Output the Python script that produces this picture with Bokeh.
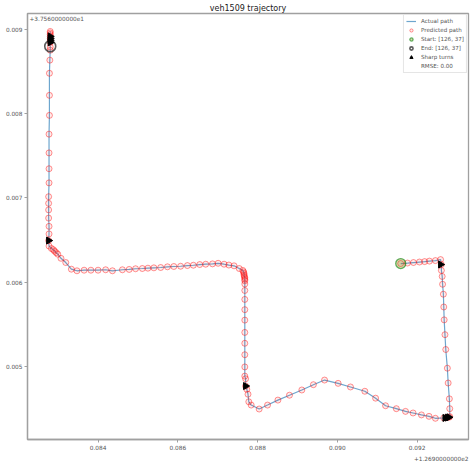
import numpy as np
from bokeh.plotting import figure
from bokeh.models import (Range1d, FixedTicker, PrintfTickFormatter, Legend,
                          LegendItem, Label, Title)
from bokeh.embed import file_html
from bokeh.resources import INLINE

# ---- data (offsets: lon +126.9, lat +37.56) ----
path_lon = [
    0.09159, 0.09176, 0.09191, 0.09206, 0.09219, 0.09231, 0.09246, 0.09259,
    0.09261, 0.09261, 0.09263, 0.09264, 0.09266, 0.09267, 0.09268, 0.09270,
    0.09272, 0.09276, 0.09278, 0.09281, 0.09282, 0.09282,
    0.09280, 0.09274, 0.09267, 0.09246, 0.09230, 0.09211, 0.09190, 0.09171,
    0.09148, 0.09121, 0.09096, 0.09069, 0.09033, 0.09002, 0.08968, 0.08940,
    0.08911, 0.08880, 0.08851, 0.08825, 0.08804, 0.08784, 0.08778, 0.08776,
    0.08773, 0.08770, 0.08770,
    0.08768, 0.08768, 0.08768, 0.08768, 0.08768, 0.08768, 0.08768, 0.08768,
    0.08768, 0.08768,
    0.08768, 0.08768, 0.08768, 0.08767, 0.08766, 0.08766, 0.08765, 0.08763,
    0.08754, 0.08741, 0.08728, 0.08716, 0.08701, 0.08687, 0.08670, 0.08655,
    0.08639, 0.08624, 0.08607, 0.08590, 0.08574, 0.08557, 0.08540, 0.08525,
    0.08511, 0.08494, 0.08478, 0.08461, 0.08436, 0.08419, 0.08400, 0.08382,
    0.08365, 0.08347, 0.08333, 0.08319, 0.08307, 0.08299, 0.08295, 0.08291,
    0.08288, 0.08283, 0.08277,
    0.08276, 0.08277, 0.08277, 0.08276, 0.08276, 0.08276, 0.08276, 0.08277,
    0.08277, 0.08277, 0.08277, 0.08278, 0.08278, 0.08278, 0.08279, 0.08280,
    0.08280, 0.08280, 0.08280, 0.08280, 0.08280, 0.08280, 0.08280, 0.08280,
]
path_lat = [
    0.006220, 0.006226, 0.006232, 0.006238, 0.006243, 0.006249, 0.006255, 0.006267,
    0.006208, 0.006138, 0.006067, 0.005974, 0.005856, 0.005704, 0.005551, 0.005375,
    0.005199, 0.004977, 0.004801, 0.004613, 0.004496, 0.004402,
    0.004394, 0.004390, 0.004386, 0.004382, 0.004405, 0.004422, 0.004445, 0.004464,
    0.004496, 0.004531, 0.004621, 0.004703, 0.004754, 0.004797, 0.004836, 0.004781,
    0.004718, 0.004656, 0.004598, 0.004539, 0.004492, 0.004539, 0.004578, 0.004668,
    0.004727, 0.004765, 0.004851,
    0.004883, 0.004992, 0.005137, 0.005273, 0.005402, 0.005548, 0.005672, 0.005794,
    0.005900, 0.005977,
    0.006015, 0.006032, 0.006050, 0.006067, 0.006085, 0.006103, 0.006120, 0.006138,
    0.006161, 0.006193, 0.006202, 0.006212, 0.006223, 0.006216, 0.006212, 0.006208,
    0.006200, 0.006196, 0.006188, 0.006185, 0.006181, 0.006173, 0.006169, 0.006165,
    0.006161, 0.006158, 0.006150, 0.006146, 0.006134, 0.006146, 0.006141, 0.006141,
    0.006141, 0.006134, 0.006153, 0.006232, 0.006282, 0.006331, 0.006349, 0.006367,
    0.006384, 0.006399, 0.006428,
    0.006493, 0.006572, 0.006662, 0.006760, 0.006857, 0.006935, 0.007014, 0.007178,
    0.007346, 0.007534, 0.007757, 0.007980, 0.008218, 0.008480, 0.008636, 0.008754,
    0.008792, 0.008847, 0.008871, 0.008894, 0.008918, 0.008941, 0.008959, 0.008977,
]
pred_lon = list(path_lon)
pred_lat = list(path_lat)

start_lon, start_lat = [0.09159], [0.006220]
end_lon, end_lat = [0.08280], [0.008801]

turn_lon = [0.08280, 0.08280, 0.08280, 0.08280, 0.08276, 0.08770,
            0.09270, 0.09276, 0.09280, 0.09259]
turn_lat = [0.008918, 0.008894, 0.008871, 0.008847, 0.006493, 0.004765,
            0.004386, 0.004390, 0.004394, 0.006208]

x_ticks = [0.084, 0.086, 0.088, 0.090, 0.092]
y_ticks = [0.005, 0.006, 0.007, 0.008, 0.009]
x_lim = (0.08223, 0.09329)
y_lim = (0.00413, 0.00919)

title_text = "veh1509 trajectory"
x_offset_text = "+1.2690000000e2"
y_offset_text = "+3.7560000000e1"
start_label = "Start: [126, 37]"
end_label = "End: [126, 37]"
rmse_label = "RMSE: 0.00"

FONT = "DejaVu Sans"
TXT = "#555555"
EDGE = "#a0a0a0"

p = figure(width=475, height=462, output_backend="svg",
           toolbar_location=None,
           x_range=Range1d(*x_lim), y_range=Range1d(*y_lim),
           title=title_text, min_border_left=27, min_border_right=7,
           min_border_top=13, min_border_bottom=0)
p.background_fill_color = "white"
p.border_fill_color = "white"
p.grid.visible = False
p.outline_line_color = EDGE
p.outline_line_width = 1.3
p.outline_line_alpha = 1

p.title.text_font = FONT
p.title.text_font_size = "8px"
p.title.text_font_style = "normal"
p.title.text_color = "#222222"
p.title.align = "center"
p.title.standoff = 2

for ax, ticks in ((p.xaxis, x_ticks), (p.yaxis, y_ticks)):
    ax.ticker = FixedTicker(ticks=ticks, minor_ticks=[])
    ax.formatter = PrintfTickFormatter(format="%.3f")
    ax.major_label_text_font = FONT
    ax.major_label_text_font_size = "5.8px"
    ax.major_label_text_color = TXT
    ax.major_tick_out = 3
    ax.major_tick_in = 0
    ax.major_tick_line_color = EDGE
    ax.minor_tick_line_color = None
    ax.axis_line_color = EDGE
    ax.axis_line_width = 1.3
    ax.major_label_standoff = 2

line_r = p.line(path_lon, path_lat, line_color="#1f77b4", line_alpha=0.65,
                line_width=1.2)
pred_r = p.scatter(pred_lon, pred_lat, marker="circle", size=6,
                   line_color="red", line_alpha=0.42, line_width=1,
                   fill_color="red", fill_alpha=0.08)
start_r = p.scatter(start_lon, start_lat, marker="circle", size=10,
                    line_color="green", line_alpha=0.6, line_width=1.3,
                    fill_color="olive", fill_alpha=0.3)
end_r = p.scatter(end_lon, end_lat, marker="circle", size=11,
                  line_color="#333333", line_alpha=0.8, line_width=1.6,
                  fill_color=None)
turn_r = p.scatter(turn_lon, turn_lat, marker="triangle", size=7,
                   angle=-np.pi / 2, line_color="black", fill_color="black")
rmse_r = p.scatter([], [], marker="circle", size=1, line_alpha=0, fill_alpha=0)

legend = Legend(items=[
    LegendItem(label="Actual path", renderers=[line_r]),
    LegendItem(label="Predicted path", renderers=[pred_r]),
    LegendItem(label=start_label, renderers=[start_r]),
    LegendItem(label=end_label, renderers=[end_r]),
    LegendItem(label="Sharp turns", renderers=[turn_r]),
    LegendItem(label=rmse_label, renderers=[rmse_r]),
], location="top_right", label_text_font=FONT, label_text_font_size="5.6px",
    label_text_color=TXT, label_height=8, glyph_height=8, glyph_width=10,
    spacing=1, padding=2, margin=1, label_standoff=5,
    border_line_color="#cccccc", background_fill_alpha=0.85)
p.add_layout(legend)

# offset texts (matplotlib style)
p.add_layout(Label(x=x_lim[0], y=y_lim[1], text=y_offset_text,
                   text_font=FONT, text_font_size="5.8px", text_color=TXT,
                   text_baseline="top", x_offset=2, y_offset=-2))
p.add_layout(Title(text=x_offset_text, align="right", text_font=FONT,
                   text_font_size="5.8px", text_font_style="normal",
                   text_color=TXT, standoff=3), "below")

open("out.html", "w").write(file_html(p, INLINE))
